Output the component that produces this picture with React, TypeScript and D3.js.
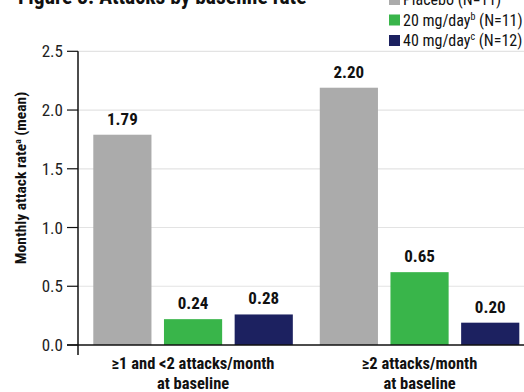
import React from "react";
import * as d3 from "d3";

const categories = ["≥1 and <2 attacks/month|at baseline", "≥2 attacks/month|at baseline"];
const seriesNames = ["Placebo", "20 mg/day", "40 mg/day"];
const seriesSup = ["", "b", "c"];
const seriesN = ["(N=11)", "(N=11)", "(N=12)"];
const placeboValues = [1.79, 2.19];
const mg20Values = [0.22, 0.62];
const mg40Values = [0.26, 0.19];
const placeboLabels = ["1.79", "2.20"];
const mg20Labels = ["0.24", "0.65"];
const mg40Labels = ["0.28", "0.20"];
const yTicks = [0, 0.5, 1.0, 1.5, 2.0, 2.5];
const colors = ["#ababab", "#39b54a", "#1c2160"];

const W = 524;
const H = 392;
const FONT = "'Roboto Condensed', Roboto, sans-serif";

export default function App() {
  const values = [placeboValues, mg20Values, mg40Values];
  const labels = [placeboLabels, mg20Labels, mg40Labels];
  const y = d3.scaleLinear().domain([0, 2.5]).range([345, 51.3]);
  const x0 = d3.scaleBand<number>().domain([0, 1]).range([78, 534.6]).paddingInner(0.119).paddingOuter(0.0675);
  const x1 = d3.scaleBand<number>().domain([0, 1, 2]).range([0, x0.bandwidth()]).paddingInner(0.177).paddingOuter(0);
  const axisX = 78;
  return (
    <svg width={W} height={H} style={{ position: "absolute", left: 0, top: 0 }} fontFamily={FONT}>
      <rect width={W} height={H} fill="#fff" />
      <text x={18} y={3.5} fontSize={21.5} fontWeight="bold" fill="#111">Figure 3. Attacks by baseline rate</text>
      {seriesNames.map((s, i) => (
        <g key={s} transform={`translate(389, ${-1 + i * 20.5})`}>
          <rect x={0} y={-5} width={11} height={11} fill={colors[i]} />
          <text x={14} y={6} fontSize={16} fill="#111">
            {s}
            {seriesSup[i] && <tspan fontSize={10} dy={-6}>{seriesSup[i]}</tspan>}
            <tspan dy={seriesSup[i] ? 6 : 0}>{" " + seriesN[i]}</tspan>
          </text>
        </g>
      ))}
      {yTicks.filter((t) => t > 0).map((t) => (
        <line key={t} x1={axisX} x2={W} y1={y(t)} y2={y(t)} stroke="#e3e3e3" strokeWidth={1.2} />
      ))}
      {categories.map((c, gi) => (
        <g key={c} transform={`translate(${x0(gi)},0)`}>
          {values.map((vals, si) => (
            <g key={si}>
              <rect x={x1(si)} y={y(vals[gi])} width={x1.bandwidth()} height={y(0) - y(vals[gi])} fill={colors[si]} />
              <text x={(x1(si) as number) + x1.bandwidth() / 2} y={y(vals[gi]) - 10} textAnchor="middle" fontSize={17} fontWeight="bold" fill="#111">
                {labels[si][gi]}
              </text>
            </g>
          ))}
          {c.split("|").map((line, li) => (
            <text key={li} x={x0.bandwidth() / 2} y={369 + li * 20} textAnchor="middle" fontSize={16.5} fontWeight="bold" fill="#111">
              {line}
            </text>
          ))}
        </g>
      ))}
      <line x1={67} x2={W} y1={y(0)} y2={y(0)} stroke="#111" strokeWidth={1.5} />
      <line x1={axisX} x2={axisX} y1={y(2.5)} y2={355} stroke="#111" strokeWidth={1.5} />
      {yTicks.map((t) => (
        <g key={t}>
          <line x1={67} x2={axisX} y1={y(t)} y2={y(t)} stroke="#111" strokeWidth={1.2} />
          <text x={63} y={y(t) + 6} textAnchor="end" fontSize={17} fill="#222">{t.toFixed(1)}</text>
        </g>
      ))}
      <text transform={`translate(25.5, 178) rotate(-90)`} textAnchor="middle" fontSize={15.5} fontWeight="bold" fill="#111">
        Monthly attack rate<tspan fontSize={9.5} dy={-5}>a</tspan><tspan dy={5}> (mean)</tspan>
      </text>
    </svg>
  );
}
